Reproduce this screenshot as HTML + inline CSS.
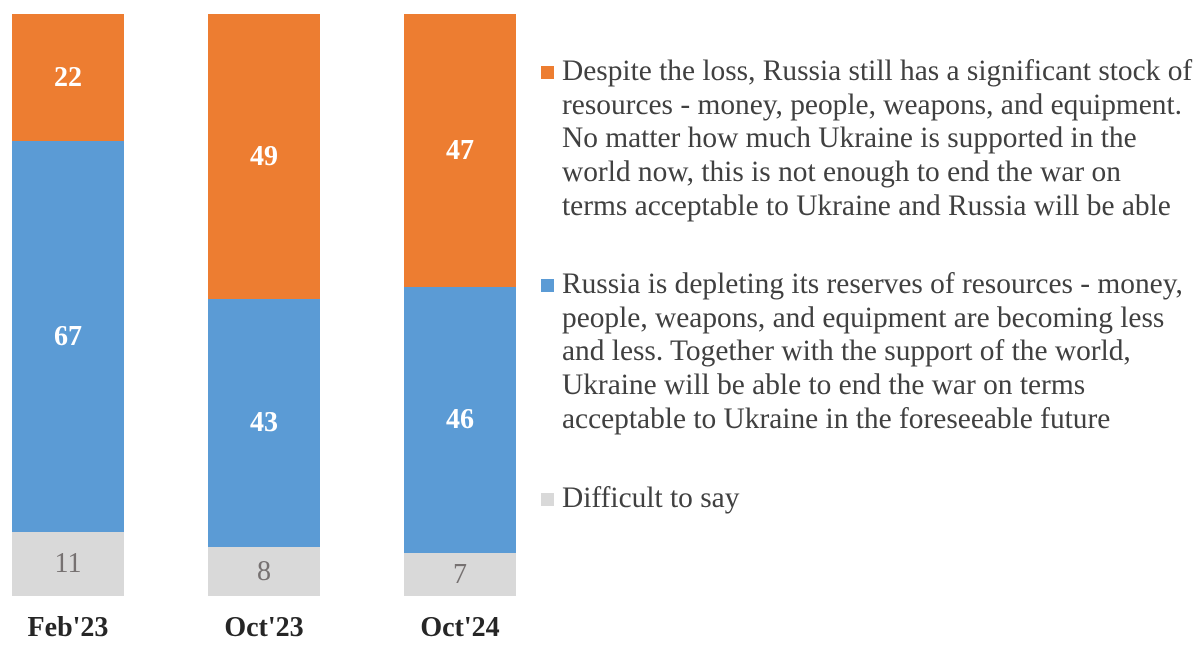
<!DOCTYPE html>
<html><head><meta charset="utf-8"><style>
body{margin:0;width:1202px;height:664px;background:#fff;position:relative;overflow:hidden;font-family:"Liberation Serif",serif}
.s{position:absolute;display:flex;align-items:center;justify-content:center;font-size:28px}
.o{background:#ED7D31;color:#fff;font-weight:bold}
.b{background:#5B9BD5;color:#fff;font-weight:bold}
.g{background:#D9D9D9;color:#767171}
.x{position:absolute;top:612px;width:112px;text-align:center;font-weight:bold;font-size:28px;color:#262626}
.lg{position:absolute;left:562px;font-size:29.4px;line-height:33.7px;color:#404040;width:660px;white-space:nowrap}
.sq{position:absolute;left:541px;width:13px;height:13px}
</style></head><body>
<div class="s o" style="left:12px;top:14px;width:112px;height:127px">22</div>
<div class="s b" style="left:12px;top:141px;width:112px;height:391px">67</div>
<div class="s g" style="left:12px;top:532px;width:112px;height:64px">11</div>
<div class="s o" style="left:208px;top:14px;width:112px;height:285px">49</div>
<div class="s b" style="left:208px;top:299px;width:112px;height:248px">43</div>
<div class="s g" style="left:208px;top:547px;width:112px;height:49px">8</div>
<div class="s o" style="left:404px;top:14px;width:112px;height:273px">47</div>
<div class="s b" style="left:404px;top:287px;width:112px;height:266px">46</div>
<div class="s g" style="left:404px;top:553px;width:112px;height:43px">7</div>
<div class="x" style="left:12px">Feb'23</div>
<div class="x" style="left:208px">Oct'23</div>
<div class="x" style="left:404px">Oct'24</div>
<div class="sq" style="top:66px;background:#ED7D31"></div>
<div class="lg" style="top:55px">Despite the loss, Russia still has a significant stock of<br>resources - money, people, weapons, and equipment.<br>No matter how much Ukraine is supported in the<br>world now, this is not enough to end the war on<br>terms acceptable to Ukraine and Russia will be able</div>
<div class="sq" style="top:279px;background:#5B9BD5"></div>
<div class="lg" style="top:268px">Russia is depleting its reserves of resources - money,<br>people, weapons, and equipment are becoming less<br>and less. Together with the support of the world,<br>Ukraine will be able to end the war on terms<br>acceptable to Ukraine in the foreseeable future</div>
<div class="sq" style="top:493px;background:#D9D9D9"></div>
<div class="lg" style="top:482px">Difficult to say</div>
</body></html>
